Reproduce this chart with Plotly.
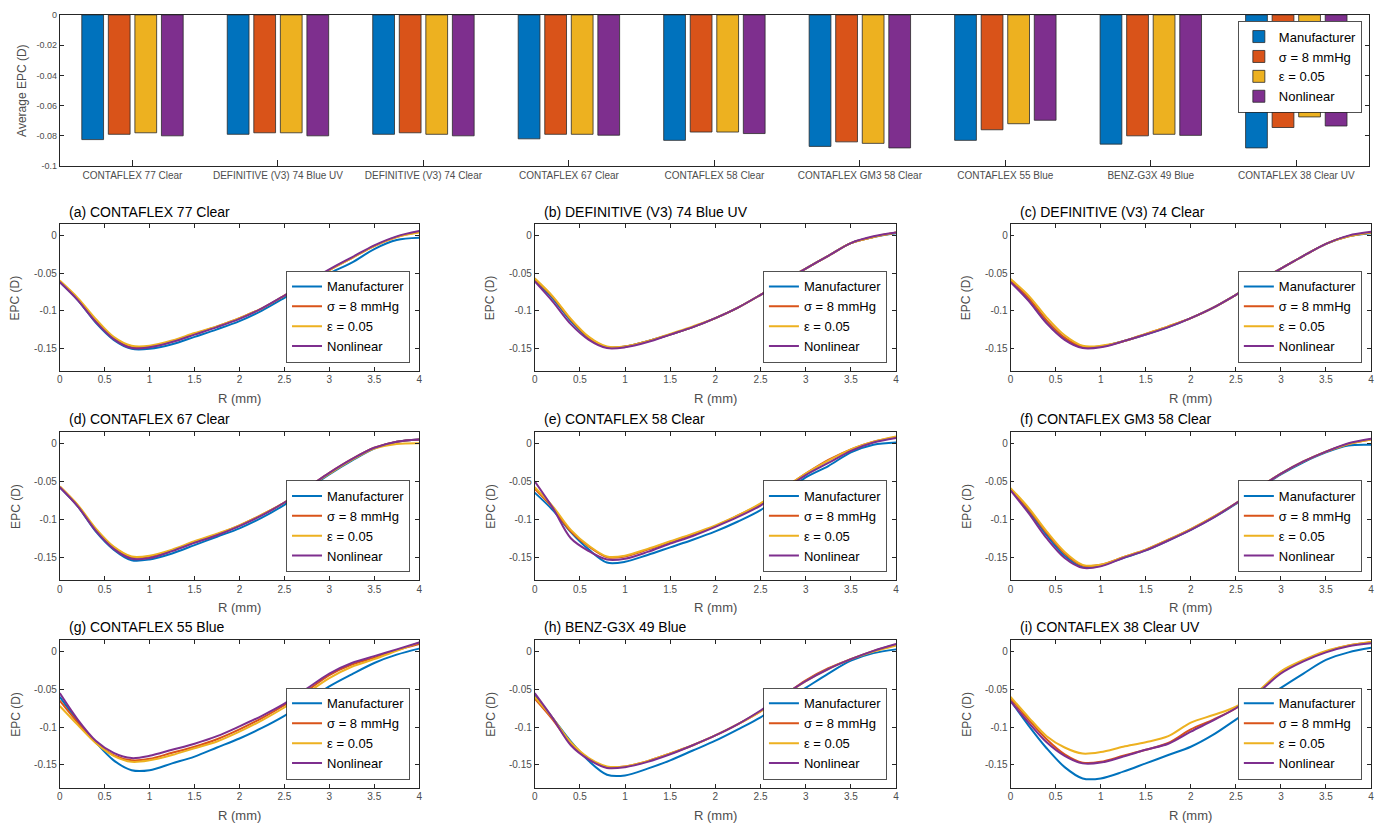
import plotly.graph_objects as go

W, H = 1378, 836

# ---------------- data ----------------
lens_names = ["CONTAFLEX 77 Clear", "DEFINITIVE (V3) 74 Blue UV", "DEFINITIVE (V3) 74 Clear",
              "CONTAFLEX 67 Clear", "CONTAFLEX 58 Clear", "CONTAFLEX GM3 58 Clear",
              "CONTAFLEX 55 Blue", "BENZ-G3X 49 Blue", "CONTAFLEX 38 Clear UV"]
panel_letters = ["a", "b", "c", "d", "e", "f", "g", "h", "i"]
series_names = ["Manufacturer", "σ = 8 mmHg", "ε = 0.05", "Nonlinear"]

avg_mfr = [-0.0825, -0.079, -0.079, -0.082, -0.083, -0.087, -0.083, -0.0855, -0.088]
avg_sigma = [-0.079, -0.078, -0.078, -0.079, -0.0775, -0.084, -0.076, -0.080, -0.0745]
avg_eps = [-0.078, -0.078, -0.079, -0.079, -0.0775, -0.085, -0.072, -0.079, -0.0675]
avg_nl = [-0.080, -0.080, -0.080, -0.0796, -0.0785, -0.088, -0.0697, -0.0797, -0.0735]

bar_ticks = [0, -0.02, -0.04, -0.06, -0.08, -0.1]
bar_ticktext = ["0", "-0.02", "-0.04", "-0.06", "-0.08", "-0.1"]
epc_ticks = [0, -0.05, -0.1, -0.15]
epc_ticktext = ["0", "-0.05", "-0.1", "-0.15"]
r_ticks = [0, 0.5, 1, 1.5, 2, 2.5, 3, 3.5, 4]
r_ticktext = ["0", "0.5", "1", "1.5", "2", "2.5", "3", "3.5", "4"]

R = [0, 0.2, 0.4, 0.6, 0.8, 1.0, 1.25, 1.5, 1.75, 2.0, 2.25, 2.5, 2.75, 3.0, 3.25, 3.5, 3.75, 4.0]

a_mfr = [-0.062, -0.086, -0.116, -0.139, -0.151, -0.151, -0.145, -0.135, -0.125, -0.114, -0.100, -0.083, -0.065, -0.050, -0.036, -0.018, -0.006, -0.003]
a_sig = [-0.061, -0.085, -0.114, -0.137, -0.149, -0.148, -0.141, -0.131, -0.121, -0.110, -0.097, -0.080, -0.063, -0.046, -0.030, -0.014, -0.002, 0.005]
a_eps = [-0.060, -0.083, -0.111, -0.135, -0.147, -0.147, -0.140, -0.130, -0.121, -0.110, -0.097, -0.080, -0.063, -0.046, -0.030, -0.014, -0.002, 0.004]
a_nl = [-0.062, -0.086, -0.115, -0.138, -0.150, -0.149, -0.142, -0.132, -0.122, -0.111, -0.097, -0.080, -0.062, -0.045, -0.029, -0.013, -0.001, 0.006]

b_mfr = [-0.060, -0.084, -0.114, -0.137, -0.149, -0.148, -0.141, -0.132, -0.122, -0.110, -0.096, -0.079, -0.061, -0.044, -0.027, -0.010, -0.002, 0.003]
b_sig = [-0.058, -0.082, -0.112, -0.136, -0.149, -0.148, -0.141, -0.132, -0.122, -0.110, -0.096, -0.079, -0.061, -0.044, -0.027, -0.010, -0.002, 0.004]
b_eps = [-0.057, -0.081, -0.111, -0.135, -0.148, -0.148, -0.141, -0.131, -0.121, -0.110, -0.096, -0.079, -0.061, -0.044, -0.027, -0.010, -0.002, 0.004]
b_nl = [-0.061, -0.088, -0.118, -0.139, -0.150, -0.149, -0.142, -0.132, -0.122, -0.110, -0.096, -0.079, -0.061, -0.044, -0.027, -0.010, -0.001, 0.004]

c_mfr = [-0.061, -0.086, -0.116, -0.138, -0.149, -0.148, -0.141, -0.132, -0.122, -0.110, -0.096, -0.079, -0.061, -0.044, -0.027, -0.011, -0.001, 0.003]
c_sig = [-0.059, -0.083, -0.113, -0.136, -0.148, -0.148, -0.141, -0.131, -0.121, -0.110, -0.096, -0.079, -0.061, -0.044, -0.027, -0.011, -0.001, 0.004]
c_eps = [-0.058, -0.080, -0.109, -0.133, -0.147, -0.147, -0.141, -0.131, -0.121, -0.110, -0.096, -0.079, -0.061, -0.044, -0.027, -0.011, -0.001, 0.004]
c_nl = [-0.062, -0.087, -0.117, -0.139, -0.150, -0.149, -0.141, -0.132, -0.122, -0.110, -0.096, -0.079, -0.061, -0.044, -0.027, -0.011, 0.000, 0.005]

d_mfr = [-0.058, -0.083, -0.116, -0.140, -0.154, -0.153, -0.145, -0.134, -0.123, -0.112, -0.098, -0.081, -0.061, -0.041, -0.023, -0.007, 0.002, 0.005]
d_sig = [-0.057, -0.082, -0.114, -0.137, -0.150, -0.149, -0.141, -0.130, -0.120, -0.108, -0.094, -0.078, -0.059, -0.039, -0.021, -0.006, 0.002, 0.005]
d_eps = [-0.057, -0.081, -0.112, -0.136, -0.149, -0.148, -0.140, -0.129, -0.119, -0.108, -0.094, -0.078, -0.059, -0.040, -0.022, -0.007, -0.001, 0.000]
d_nl = [-0.058, -0.083, -0.115, -0.139, -0.152, -0.151, -0.142, -0.131, -0.121, -0.109, -0.095, -0.078, -0.059, -0.039, -0.021, -0.006, 0.002, 0.005]

e_mfr = [-0.065, -0.088, -0.117, -0.140, -0.157, -0.156, -0.147, -0.137, -0.127, -0.116, -0.103, -0.088, -0.067, -0.045, -0.030, -0.012, -0.002, 0.001]
e_sig = [-0.060, -0.085, -0.116, -0.136, -0.150, -0.149, -0.140, -0.130, -0.120, -0.109, -0.095, -0.080, -0.060, -0.040, -0.022, -0.008, 0.002, 0.008]
e_eps = [-0.058, -0.083, -0.114, -0.135, -0.149, -0.148, -0.139, -0.129, -0.119, -0.108, -0.095, -0.079, -0.060, -0.040, -0.023, -0.008, 0.002, 0.009]
e_nl = [-0.050, -0.085, -0.125, -0.142, -0.153, -0.152, -0.143, -0.132, -0.122, -0.110, -0.097, -0.082, -0.062, -0.042, -0.026, -0.010, 0.001, 0.007]

f_mfr = [-0.061, -0.089, -0.121, -0.148, -0.163, -0.161, -0.151, -0.141, -0.128, -0.114, -0.098, -0.080, -0.060, -0.041, -0.025, -0.012, -0.003, -0.002]
f_sig = [-0.060, -0.087, -0.118, -0.145, -0.161, -0.160, -0.150, -0.140, -0.127, -0.113, -0.097, -0.079, -0.059, -0.040, -0.024, -0.011, -0.001, 0.005]
f_eps = [-0.059, -0.085, -0.116, -0.143, -0.160, -0.160, -0.150, -0.140, -0.127, -0.113, -0.097, -0.079, -0.059, -0.040, -0.024, -0.011, -0.001, 0.005]
f_nl = [-0.062, -0.092, -0.125, -0.151, -0.164, -0.162, -0.151, -0.141, -0.128, -0.114, -0.098, -0.079, -0.059, -0.040, -0.024, -0.011, 0.000, 0.006]

g_mfr = [-0.060, -0.092, -0.120, -0.144, -0.157, -0.157, -0.148, -0.139, -0.127, -0.115, -0.101, -0.085, -0.066, -0.046, -0.030, -0.015, -0.004, 0.004]
g_sig = [-0.065, -0.094, -0.120, -0.137, -0.144, -0.142, -0.134, -0.126, -0.116, -0.103, -0.088, -0.071, -0.052, -0.031, -0.017, -0.008, 0.002, 0.010]
g_eps = [-0.072, -0.097, -0.121, -0.138, -0.146, -0.144, -0.137, -0.128, -0.119, -0.106, -0.091, -0.074, -0.055, -0.035, -0.020, -0.010, 0.001, 0.012]
g_nl = [-0.055, -0.090, -0.118, -0.134, -0.141, -0.138, -0.130, -0.122, -0.112, -0.099, -0.085, -0.069, -0.049, -0.029, -0.015, -0.006, 0.003, 0.012]

h_mfr = [-0.058, -0.088, -0.119, -0.145, -0.163, -0.164, -0.155, -0.144, -0.131, -0.118, -0.103, -0.087, -0.067, -0.048, -0.029, -0.012, -0.002, 0.003]
h_sig = [-0.062, -0.090, -0.122, -0.142, -0.153, -0.152, -0.145, -0.135, -0.124, -0.111, -0.096, -0.079, -0.059, -0.038, -0.022, -0.010, 0.001, 0.009]
h_eps = [-0.060, -0.088, -0.120, -0.141, -0.152, -0.152, -0.145, -0.135, -0.124, -0.111, -0.096, -0.079, -0.059, -0.039, -0.023, -0.010, 0.000, 0.008]
h_nl = [-0.055, -0.088, -0.124, -0.143, -0.154, -0.153, -0.146, -0.136, -0.124, -0.111, -0.096, -0.078, -0.058, -0.039, -0.023, -0.010, 0.001, 0.010]

i_mfr = [-0.065, -0.098, -0.128, -0.153, -0.168, -0.168, -0.159, -0.148, -0.137, -0.126, -0.110, -0.090, -0.069, -0.048, -0.029, -0.011, -0.001, 0.005]
i_sig = [-0.062, -0.090, -0.116, -0.136, -0.147, -0.146, -0.138, -0.130, -0.121, -0.103, -0.090, -0.075, -0.053, -0.027, -0.012, 0.000, 0.008, 0.012]
i_eps = [-0.060, -0.087, -0.112, -0.127, -0.135, -0.133, -0.126, -0.120, -0.112, -0.094, -0.084, -0.073, -0.052, -0.026, -0.011, 0.001, 0.008, 0.013]
i_nl = [-0.066, -0.094, -0.120, -0.138, -0.148, -0.147, -0.139, -0.130, -0.122, -0.106, -0.091, -0.075, -0.054, -0.029, -0.013, -0.001, 0.007, 0.011]

panel_series = [
    [a_mfr, a_sig, a_eps, a_nl], [b_mfr, b_sig, b_eps, b_nl], [c_mfr, c_sig, c_eps, c_nl],
    [d_mfr, d_sig, d_eps, d_nl], [e_mfr, e_sig, e_eps, e_nl], [f_mfr, f_sig, f_eps, f_nl],
    [g_mfr, g_sig, g_eps, g_nl], [h_mfr, h_sig, h_eps, h_nl], [i_mfr, i_sig, i_eps, i_nl],
]

# ---------------- style ----------------
colors = ["#0072BD", "#D95319", "#EDB120", "#7E2F8E"]
FONT = "Liberation Sans, Arial, sans-serif"
AX = "#262626"
TICK = "#4d4d4d"


def px_x(p):
    return p / W


def px_y(p):
    return 1 - p / H


col_px = [(57, 418), (534, 897), (1012, 1374)]
row_px = [(222, 370), (432, 582), (643, 792)]
bar_box = (57, 1372, 10, 163)

fig = go.Figure()

# ---------------- bar chart ----------------
for name, vals, col in zip(series_names, [avg_mfr, avg_sigma, avg_eps, avg_nl], colors):
    fig.add_trace(go.Bar(
        x=lens_names, y=vals, name=name, marker=dict(color=col, line=dict(color="#2b2b2b", width=0.8)),
        xaxis="x", yaxis="y", legend="legend", showlegend=True))

layout = dict(
    width=W, height=H, margin=dict(l=0, r=0, t=0, b=0),
    paper_bgcolor="white", plot_bgcolor="white",
    font=dict(family=FONT, color=AX),
    barmode="group", bargap=0.27, bargroupgap=0.18,
    showlegend=True,
)

common_axis = dict(showline=True, linecolor=AX, linewidth=0.8, mirror="ticks", ticks="inside",
                   tickcolor=AX, ticklen=4, tickwidth=0.8, showgrid=False, zeroline=False)

layout["xaxis"] = dict(common_axis, domain=[px_x(bar_box[0]), px_x(bar_box[1])], anchor="y",
                       type="category", range=[-0.5, 8.5], ticklen=6,
                       tickfont=dict(size=10, color=TICK), mirror=True)
layout["yaxis"] = dict(common_axis, domain=[px_y(bar_box[3]), px_y(bar_box[2])], anchor="x",
                       range=[-0.1, 0], tickvals=bar_ticks, ticktext=bar_ticktext,
                       tickfont=dict(size=9, color=TICK))
layout["legend"] = dict(x=px_x(1365), y=px_y(16), xanchor="right", yanchor="top",
                        bgcolor="white", bordercolor=AX, borderwidth=0.8,
                        font=dict(size=13, family=FONT, color="#000"), tracegroupgap=0,
                        itemwidth=30)

annotations = [dict(text="Average EPC (D)", x=px_x(19), y=px_y(87), xref="paper", yref="paper",
                    textangle=-90, showarrow=False, font=dict(size=12, color=TICK),
                    xanchor="center", yanchor="middle")]

# ---------------- line subplots ----------------
for k in range(9):
    r, c = divmod(k, 3)
    n = k + 2
    xa, ya = f"x{n}", f"y{n}"
    lg = f"legend{n}"
    x0, x1 = col_px[c]
    y0, y1 = row_px[r]
    for name, vals, col in zip(series_names, panel_series[k], colors):
        fig.add_trace(go.Scatter(
            x=R, y=vals, name=name, mode="lines",
            line=dict(color=col, width=2, shape="spline", smoothing=0.9),
            xaxis=xa, yaxis=ya, legend=lg, showlegend=True))
    layout[f"xaxis{n}"] = dict(common_axis, domain=[px_x(x0), px_x(x1)], anchor=ya,
                               range=[0, 4], tickvals=r_ticks, ticktext=r_ticktext,
                               tickfont=dict(size=10, color=TICK))
    layout[f"yaxis{n}"] = dict(common_axis, domain=[px_y(y1), px_y(y0)], anchor=xa,
                               range=[-0.18, 0.015], tickvals=epc_ticks, ticktext=epc_ticktext,
                               tickfont=dict(size=10, color=TICK))
    layout[lg] = dict(x=px_x(x1 - 9), y=px_y(y1 - 8), xanchor="right", yanchor="bottom",
                      bgcolor="white", bordercolor=AX, borderwidth=0.8,
                      font=dict(size=13, family=FONT, color="#000"), tracegroupgap=0,
                      itemwidth=30)
    annotations.append(dict(text=f"({panel_letters[k]}) {lens_names[k]}", x=px_x(x0 + 7),
                            y=px_y(y0 - 13), xref="paper", yref="paper", showarrow=False,
                            xanchor="left", yanchor="middle", font=dict(size=14, color="#000")))
    annotations.append(dict(text="R (mm)", x=px_x((x0 + x1) / 2), y=px_y(y1 + 28),
                            xref="paper", yref="paper", showarrow=False,
                            xanchor="center", yanchor="middle", font=dict(size=13, color=TICK)))
    annotations.append(dict(text="EPC (D)", x=px_x(x0 - 44), y=px_y((y0 + y1) / 2),
                            xref="paper", yref="paper", showarrow=False, textangle=-90,
                            xanchor="center", yanchor="middle", font=dict(size=12, color=TICK)))

layout["annotations"] = annotations
fig.update_layout(**layout)

fig.write_html("out.html", config={"displayModeBar": False},
               post_script="document.body.style.margin='0';document.body.style.overflow='hidden';")
